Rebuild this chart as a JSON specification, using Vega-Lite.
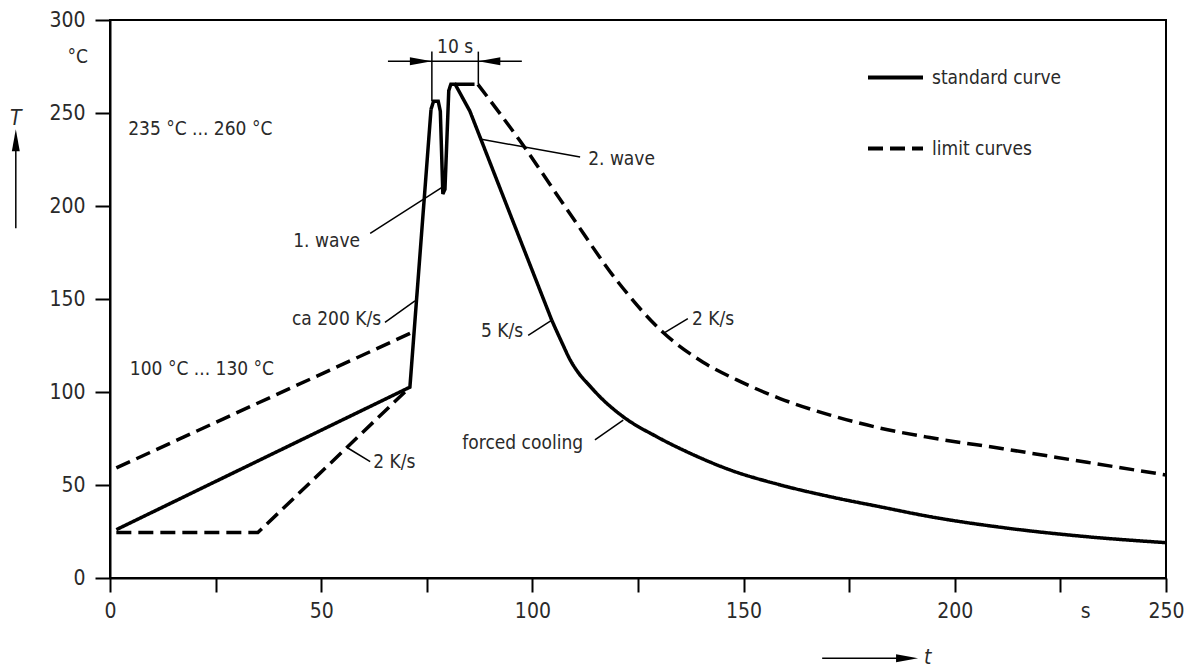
{
  "$schema": "https://vega.github.io/schema/vega-lite/v6.json",
  "width": 1056,
  "height": 558,
  "autosize": {"type": "none"},
  "padding": {"left": 110, "top": 20, "right": 24, "bottom": 90},
  "background": "white",
  "config": {
    "view": {"stroke": "black", "strokeWidth": 2},
    "font": "Liberation Sans Narrow, DejaVu Sans Condensed, Liberation Sans, sans-serif",
    "axis": {
      "domainColor": "black", "domainWidth": 2, "tickColor": "black", "tickWidth": 2,
      "labelColor": "#2a2a2a", "labelFontSize": 21, "labelFont": "Liberation Sans Narrow, DejaVu Sans Condensed, Liberation Sans, sans-serif",
      "grid": false, "title": null, "labelOverlap": false, "labelFlush": false
    }
  },
  "datasets": {
    "curves": [
      {"seg": "std", "style": "standard curve", "i": 1, "t": 1.5, "T": 26},
      {"seg": "std", "style": "standard curve", "i": 2, "t": 71, "T": 102.6},
      {"seg": "std", "style": "standard curve", "i": 3, "t": 76.0, "T": 252},
      {"seg": "std", "style": "standard curve", "i": 4, "t": 76.6, "T": 256.3},
      {"seg": "std", "style": "standard curve", "i": 5, "t": 77.7, "T": 256.3},
      {"seg": "std", "style": "standard curve", "i": 6, "t": 78.2, "T": 251},
      {"seg": "std", "style": "standard curve", "i": 7, "t": 78.8, "T": 206.5},
      {"seg": "std", "style": "standard curve", "i": 8, "t": 79.3, "T": 209},
      {"seg": "std", "style": "standard curve", "i": 9, "t": 80.2, "T": 262},
      {"seg": "std", "style": "standard curve", "i": 10, "t": 80.7, "T": 265.5},
      {"seg": "std", "style": "standard curve", "i": 11, "t": 81.7, "T": 265.5},
      {"seg": "std", "style": "standard curve", "i": 12, "t": 85.2, "T": 251},
      {"seg": "std", "style": "standard curve", "i": 13, "t": 94.7, "T": 195.8},
      {"seg": "std", "style": "standard curve", "i": 14, "t": 104.6, "T": 138.5},
      {"seg": "top", "style": "standard curve", "i": 1, "t": 81.7, "T": 265.5},
      {"seg": "top", "style": "standard curve", "i": 2, "t": 86.3, "T": 265.5},
      {"seg": "uprise", "style": "limit curves", "i": 1, "t": 1.5, "T": 59.2},
      {"seg": "uprise", "style": "limit curves", "i": 2, "t": 72, "T": 132.5},
      {"seg": "low", "style": "limit curves", "i": 1, "t": 1.5, "T": 24.4},
      {"seg": "low", "style": "limit curves", "i": 2, "t": 35, "T": 24.4},
      {"seg": "low", "style": "limit curves", "i": 3, "t": 70.5, "T": 101.5}
    ],
    "smooth": [
      {"seg": "stdfall", "style": "standard curve", "i": 1, "t": 104.6, "T": 138.5},
      {"seg": "stdfall", "style": "standard curve", "i": 2, "t": 107, "T": 126.5},
      {"seg": "stdfall", "style": "standard curve", "i": 3, "t": 109, "T": 117},
      {"seg": "stdfall", "style": "standard curve", "i": 4, "t": 111, "T": 110},
      {"seg": "stdfall", "style": "standard curve", "i": 5, "t": 113.5, "T": 103.5},
      {"seg": "stdfall", "style": "standard curve", "i": 6, "t": 116, "T": 97.4},
      {"seg": "stdfall", "style": "standard curve", "i": 7, "t": 121.5, "T": 86.7},
      {"seg": "stdfall", "style": "standard curve", "i": 8, "t": 129.4, "T": 76},
      {"seg": "stdfall", "style": "standard curve", "i": 9, "t": 137.3, "T": 67.1},
      {"seg": "stdfall", "style": "standard curve", "i": 10, "t": 146.8, "T": 58.1},
      {"seg": "stdfall", "style": "standard curve", "i": 11, "t": 158.6, "T": 50.1},
      {"seg": "stdfall", "style": "standard curve", "i": 12, "t": 170.5, "T": 43.7},
      {"seg": "stdfall", "style": "standard curve", "i": 13, "t": 182.3, "T": 38.3},
      {"seg": "stdfall", "style": "standard curve", "i": 14, "t": 194.1, "T": 33},
      {"seg": "stdfall", "style": "standard curve", "i": 15, "t": 211.4, "T": 27.1},
      {"seg": "stdfall", "style": "standard curve", "i": 16, "t": 231.3, "T": 22.2},
      {"seg": "stdfall", "style": "standard curve", "i": 17, "t": 250, "T": 19},
      {"seg": "upfall", "style": "limit curves", "i": 1, "t": 87.1, "T": 265.4},
      {"seg": "upfall", "style": "limit curves", "i": 2, "t": 97.1, "T": 234.9},
      {"seg": "upfall", "style": "limit curves", "i": 3, "t": 108.9, "T": 195.8},
      {"seg": "upfall", "style": "limit curves", "i": 4, "t": 120, "T": 159.9},
      {"seg": "upfall", "style": "limit curves", "i": 5, "t": 130.9, "T": 132.1},
      {"seg": "upfall", "style": "limit curves", "i": 6, "t": 140.4, "T": 116},
      {"seg": "upfall", "style": "limit curves", "i": 7, "t": 148.4, "T": 106.5},
      {"seg": "upfall", "style": "limit curves", "i": 8, "t": 158.6, "T": 96.5},
      {"seg": "upfall", "style": "limit curves", "i": 9, "t": 170.5, "T": 87.6},
      {"seg": "upfall", "style": "limit curves", "i": 10, "t": 182.3, "T": 80.6},
      {"seg": "upfall", "style": "limit curves", "i": 11, "t": 194.1, "T": 75.5},
      {"seg": "upfall", "style": "limit curves", "i": 12, "t": 211.4, "T": 69.5},
      {"seg": "upfall", "style": "limit curves", "i": 13, "t": 231.3, "T": 62.2},
      {"seg": "upfall", "style": "limit curves", "i": 14, "t": 250, "T": 55.4}
    ],
    "leaders": [
      {"t": 61.6, "T": 185.3, "t2": 78.6, "T2": 210},
      {"t": 65.1, "T": 137.4, "t2": 72.2, "T2": 149},
      {"t": 61.6, "T": 62.6, "t2": 56.3, "T2": 69.9},
      {"t": 111.3, "T": 226.3, "t2": 87.6, "T2": 236},
      {"t": 99, "T": 130.4, "t2": 104.6, "T2": 138.6},
      {"t": 136.8, "T": 139.5, "t2": 131.4, "T2": 132},
      {"t": 114.8, "T": 74.2, "t2": 121.5, "T2": 84.9},
      {"t": 65.8, "T": 277.8, "t2": 97.5, "T2": 277.8},
      {"t": 76.2, "T": 283, "t2": 76.2, "T2": 256.3},
      {"t": 87.2, "T": 283, "t2": 87.2, "T2": 265.4},
      {"t": -22.3, "T": 188, "t2": -22.3, "T2": 236},
      {"t": 168.6, "T": -43.1, "t2": 187, "T2": -43.1}
    ],
    "textLeft": [
      {"t": 4.3, "T": 241.6, "label": "235 °C ... 260 °C"},
      {"t": 4.7, "T": 112.2, "label": "100 °C ... 130 °C"},
      {"t": 62.3, "T": 62.6, "label": "2 K/s"},
      {"t": 113.2, "T": 225.5, "label": "2. wave"},
      {"t": 137.8, "T": 139.4, "label": "2 K/s"}
    ],
    "textRight": [
      {"t": 59.2, "T": 181.3, "label": "1. wave"},
      {"t": 64.2, "T": 139, "label": "ca 200 K/s"},
      {"t": 97.8, "T": 133, "label": "5 K/s"},
      {"t": 112, "T": 72.6, "label": "forced cooling"},
      {"t": -5.2, "T": 279.9, "label": "°C"}
    ],
    "textCenter": [
      {"t": 81.7, "T": 285.3, "label": "10 s"}
    ],
    "textBase": [
      {"t": 231, "T": -21.3, "label": "s"}
    ],
    "arrowRight": [
      {"t": 73.6, "T": 277.8},
      {"t": 188.7, "T": -43.1}
    ],
    "arrowLeft": [
      {"t": 89.8, "T": 277.8}
    ],
    "arrowUp": [
      {"t": -22.3, "T": 235.4}
    ],
    "italic": [
      {"t": -22.3, "T": 247, "label": "T"},
      {"t": 193.6, "T": -43.1, "label": "t"}
    ]
  },
  "layer": [
    {
      "data": {"name": "curves"},
      "mark": {"type": "line", "color": "black", "strokeWidth": 3.5, "strokeCap": "butt", "strokeJoin": "miter"},
      "encoding": {
        "x": {"field": "t", "type": "quantitative",
              "scale": {"domain": [0, 250], "nice": false, "zero": false},
              "axis": {"values": [0, 25, 50, 75, 100, 125, 150, 175, 200, 225, 250],
                       "labelExpr": "datum.value % 50 == 0 ? datum.label : ''",
                       "tickSize": 14, "labelPadding": 8}},
        "y": {"field": "T", "type": "quantitative",
              "scale": {"domain": [0, 300], "nice": false, "zero": false},
              "axis": {"values": [0, 50, 100, 150, 200, 250, 300], "tickSize": 15, "labelPadding": 10}},
        "detail": {"field": "seg"},
        "order": {"field": "i", "type": "quantitative"},
        "strokeDash": {"field": "style", "type": "nominal",
                       "scale": {"domain": ["standard curve", "limit curves"], "range": [[1, 0], [15, 7]]},
                       "legend": {"title": null, "orient": "none", "legendX": 756, "legendY": 28,
                                  "symbolType": "stroke", "symbolSize": 3025, "symbolStrokeWidth": 4,
                                  "symbolStrokeColor": "black", "labelFontSize": 19, "labelOffset": 7,
                                  "rowPadding": 31, "labelFont": "Liberation Sans Narrow, DejaVu Sans Condensed, Liberation Sans, sans-serif",
                                  "labelColor": "#2a2a2a", "padding": 0}}
      }
    },
    {
      "data": {"name": "smooth"},
      "mark": {"type": "line", "color": "black", "strokeWidth": 3.5, "strokeCap": "butt", "interpolate": "monotone"},
      "encoding": {
        "x": {"field": "t", "type": "quantitative"},
        "y": {"field": "T", "type": "quantitative"},
        "detail": {"field": "seg"},
        "order": {"field": "i", "type": "quantitative"},
        "strokeDash": {"field": "style", "type": "nominal"}
      }
    },
    {
      "data": {"name": "leaders"},
      "mark": {"type": "rule", "color": "black", "strokeWidth": 1.5},
      "encoding": {
        "x": {"field": "t", "type": "quantitative"},
        "y": {"field": "T", "type": "quantitative"},
        "x2": {"field": "t2"},
        "y2": {"field": "T2"}
      }
    },
    {
      "data": {"name": "textLeft"},
      "mark": {"type": "text", "align": "left", "baseline": "middle", "fontSize": 19, "color": "#2a2a2a"},
      "encoding": {
        "x": {"field": "t", "type": "quantitative"},
        "y": {"field": "T", "type": "quantitative"},
        "text": {"field": "label"}
      }
    },
    {
      "data": {"name": "textRight"},
      "mark": {"type": "text", "align": "right", "baseline": "middle", "fontSize": 19, "color": "#2a2a2a"},
      "encoding": {
        "x": {"field": "t", "type": "quantitative"},
        "y": {"field": "T", "type": "quantitative"},
        "text": {"field": "label"}
      }
    },
    {
      "data": {"name": "textCenter"},
      "mark": {"type": "text", "align": "center", "baseline": "middle", "fontSize": 19, "color": "#2a2a2a"},
      "encoding": {
        "x": {"field": "t", "type": "quantitative"},
        "y": {"field": "T", "type": "quantitative"},
        "text": {"field": "label"}
      }
    },
    {
      "data": {"name": "textBase"},
      "mark": {"type": "text", "align": "center", "baseline": "alphabetic", "fontSize": 21, "color": "#2a2a2a"},
      "encoding": {
        "x": {"field": "t", "type": "quantitative"},
        "y": {"field": "T", "type": "quantitative"},
        "text": {"field": "label"}
      }
    },
    {
      "data": {"name": "italic"},
      "mark": {"type": "text", "align": "center", "baseline": "middle", "fontSize": 21, "fontStyle": "italic", "color": "#2a2a2a"},
      "encoding": {
        "x": {"field": "t", "type": "quantitative"},
        "y": {"field": "T", "type": "quantitative"},
        "text": {"field": "label"}
      }
    },
    {
      "data": {"name": "arrowRight"},
      "mark": {"type": "point", "filled": true, "color": "black", "opacity": 1, "size": 484, "strokeWidth": 0, "shape": "M-1,-0.36L1,0L-1,0.36Z"},
      "encoding": {
        "x": {"field": "t", "type": "quantitative"},
        "y": {"field": "T", "type": "quantitative"}
      }
    },
    {
      "data": {"name": "arrowLeft"},
      "mark": {"type": "point", "filled": true, "color": "black", "opacity": 1, "size": 484, "strokeWidth": 0, "shape": "M1,-0.36L-1,0L1,0.36Z"},
      "encoding": {
        "x": {"field": "t", "type": "quantitative"},
        "y": {"field": "T", "type": "quantitative"}
      }
    },
    {
      "data": {"name": "arrowUp"},
      "mark": {"type": "point", "filled": true, "color": "black", "opacity": 1, "size": 484, "strokeWidth": 0, "shape": "M-0.36,1L0,-1L0.36,1Z"},
      "encoding": {
        "x": {"field": "t", "type": "quantitative"},
        "y": {"field": "T", "type": "quantitative"}
      }
    }
  ]
}
